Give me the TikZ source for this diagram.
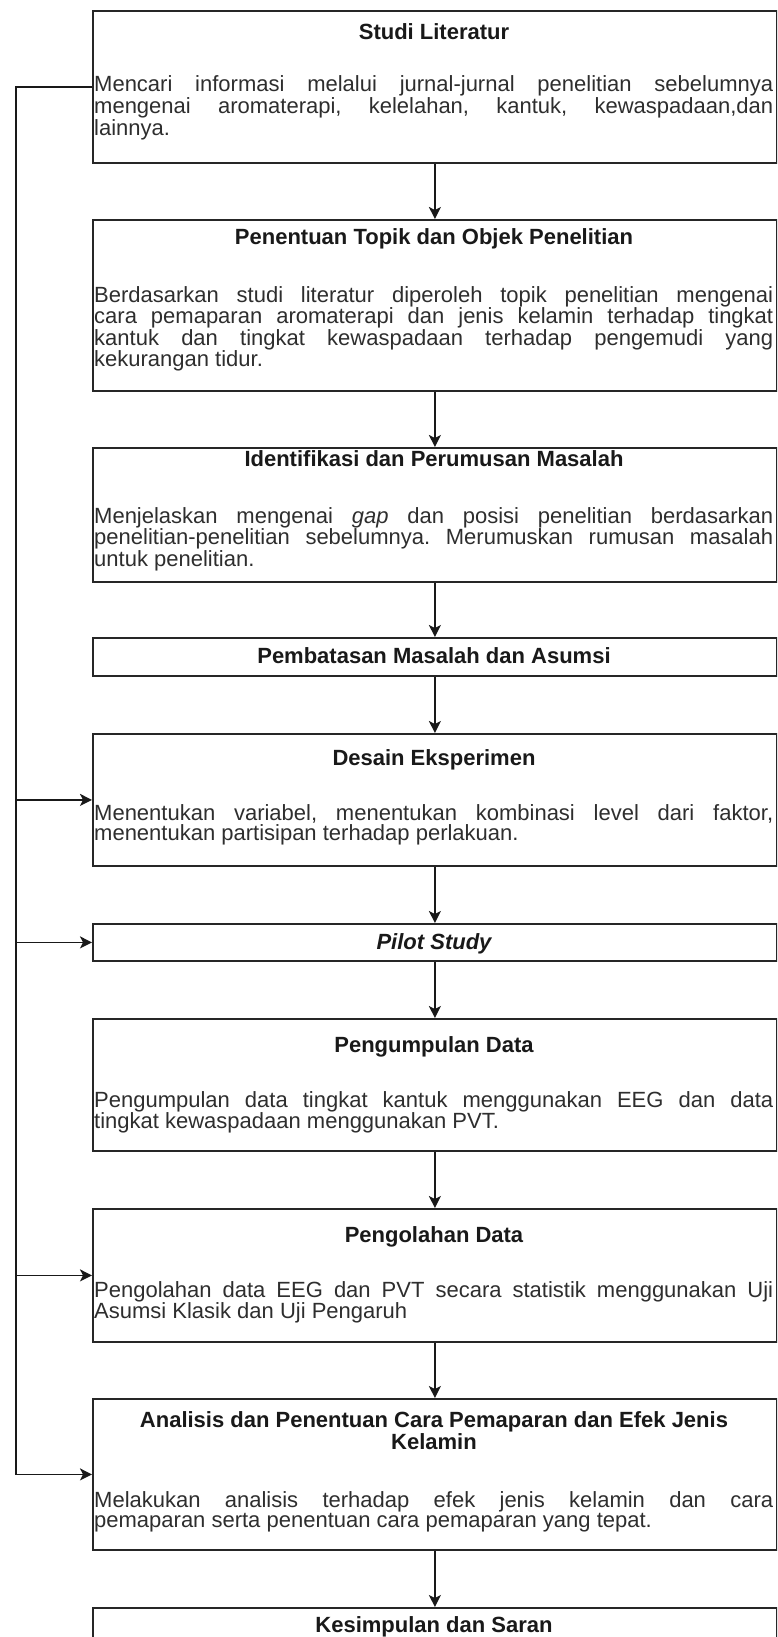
\documentclass[tikz,border=0pt]{standalone}
\usepackage{fontspec}
\setmainfont{Liberation Sans}
\usetikzlibrary{arrows.meta}
\frenchspacing
\newcommand{\jline}[1]{\makebox[\linewidth][s]{#1}}
\begin{document}
\begin{tikzpicture}[x=1pt,y=-1pt,
  box/.style={draw=black!85, line width=1.8pt, fill=white, inner sep=0pt, anchor=north west, minimum width=684pt},
  conn/.style={draw=black!90, line width=1.6pt},
  arr/.style={conn, -{Stealth[length=12pt,width=12pt,inset=3pt]}},
  ttl/.style={font=\fontsize{22}{21}\selectfont\bfseries, text=black!90, anchor=base, inner sep=0pt},
  bod/.style={font=\fontsize{22}{20.5}\selectfont, text=black!82, anchor=base west, inner sep=0pt}
]
\useasboundingbox (0,0) rectangle (777,1637);
\clip (0,0) rectangle (777,1637);

% boxes
\node[box, minimum height=152pt] (b1) at (92,10) {};
\node[box, minimum height=171pt] (b2) at (92,219) {};
\node[box, minimum height=134pt] (b3) at (92,447) {};
\node[box, minimum height=38pt]  (b4) at (92,637) {};
\node[box, minimum height=132pt] (b5) at (92,733) {};
\node[box, minimum height=37pt]  (b6) at (92,923) {};
\node[box, minimum height=132pt] (b7) at (92,1018) {};
\node[box, minimum height=133pt] (b8) at (92,1208) {};
\node[box, minimum height=151pt] (b9) at (92,1398) {};
\node[box, minimum height=100pt] (b10) at (92,1607) {};

% texts
\node[ttl] (t1) at (434,40) {Studi Literatur};
\node[bod] (d1) at (94,92) {\parbox[t]{679pt}{\frenchspacing\jline{Mencari informasi melalui jurnal-jurnal penelitian sebelumnya}\\\jline{mengenai aromaterapi, kelelahan, kantuk, kewaspadaan,dan}\\lainnya.}};

\node[ttl] (t2) at (434,245) {Penentuan Topik dan Objek Penelitian};
\node[bod] (d2) at (94,302) {\parbox[t]{679pt}{\frenchspacing\jline{Berdasarkan studi literatur diperoleh topik penelitian mengenai}\\\jline{cara pemaparan aromaterapi dan jenis kelamin terhadap tingkat}\\\jline{kantuk dan tingkat kewaspadaan terhadap pengemudi yang}\\kekurangan tidur.}};

\node[ttl] (t3) at (434,466) {Identifikasi dan Perumusan Masalah};
\node[bod] (d3) at (94,523) {\parbox[t]{679pt}{\frenchspacing\jline{Menjelaskan mengenai \textit{gap} dan posisi penelitian berdasarkan}\\\jline{penelitian-penelitian sebelumnya. Merumuskan rumusan masalah}\\untuk penelitian.}};

\node[ttl] (t4) at (434,663) {Pembatasan Masalah dan Asumsi};

\node[ttl] (t5) at (434,765) {Desain Eksperimen};
\node[bod] (d5) at (94,820) {\parbox[t]{679pt}{\frenchspacing\jline{Menentukan variabel, menentukan kombinasi level dari faktor,}\\menentukan partisipan terhadap perlakuan.}};

\node[ttl, font=\fontsize{22}{21}\selectfont\bfseries\itshape] (t6) at (434,949) {Pilot Study};

\node[ttl] (t7) at (434,1052) {Pengumpulan Data};
\node[bod] (d7) at (94,1107) {\parbox[t]{679pt}{\frenchspacing\jline{Pengumpulan data tingkat kantuk menggunakan EEG dan data}\\tingkat kewaspadaan menggunakan PVT.}};

\node[ttl] (t8) at (434,1242) {Pengolahan Data};
\node[bod] (d8) at (94,1297) {\parbox[t]{679pt}{\frenchspacing\jline{Pengolahan data EEG dan PVT secara statistik menggunakan Uji}\\Asumsi Klasik dan Uji Pengaruh}};

\node[ttl] (t9a) at (434,1427) {Analisis dan Penentuan Cara Pemaparan dan Efek Jenis};
\node[ttl] (t9b) at (434,1449) {Kelamin};
\node[bod] (d9) at (94,1507) {\parbox[t]{679pt}{\frenchspacing\jline{Melakukan analisis terhadap efek jenis kelamin dan cara}\\pemaparan serta penentuan cara pemaparan yang tepat.}};

\node[ttl] (t10) at (434,1632) {Kesimpulan dan Saran};

% main flow
\draw[arr] (b1) -- (b2);
\draw[arr] (b2) -- (b3);
\draw[arr] (b3) -- (b4);
\draw[arr] (b4) -- (b5);
\draw[arr] (b5) -- (b6);
\draw[arr] (b6) -- (b7);
\draw[arr] (b7) -- (b8);
\draw[arr] (b8) -- (b9);
\draw[arr] (b9) -- (b10);

% feedback line
\coordinate (L) at (16,0);
\draw[arr] (b1.west) -- (b1.west -| L) |- (b9.west);
\draw[arr] (b5.west -| L) -- (b5.west);
\draw[arr] (b6.west -| L) -- (b6.west);
\draw[arr] (b8.west -| L) -- (b8.west);
\end{tikzpicture}
\end{document}
